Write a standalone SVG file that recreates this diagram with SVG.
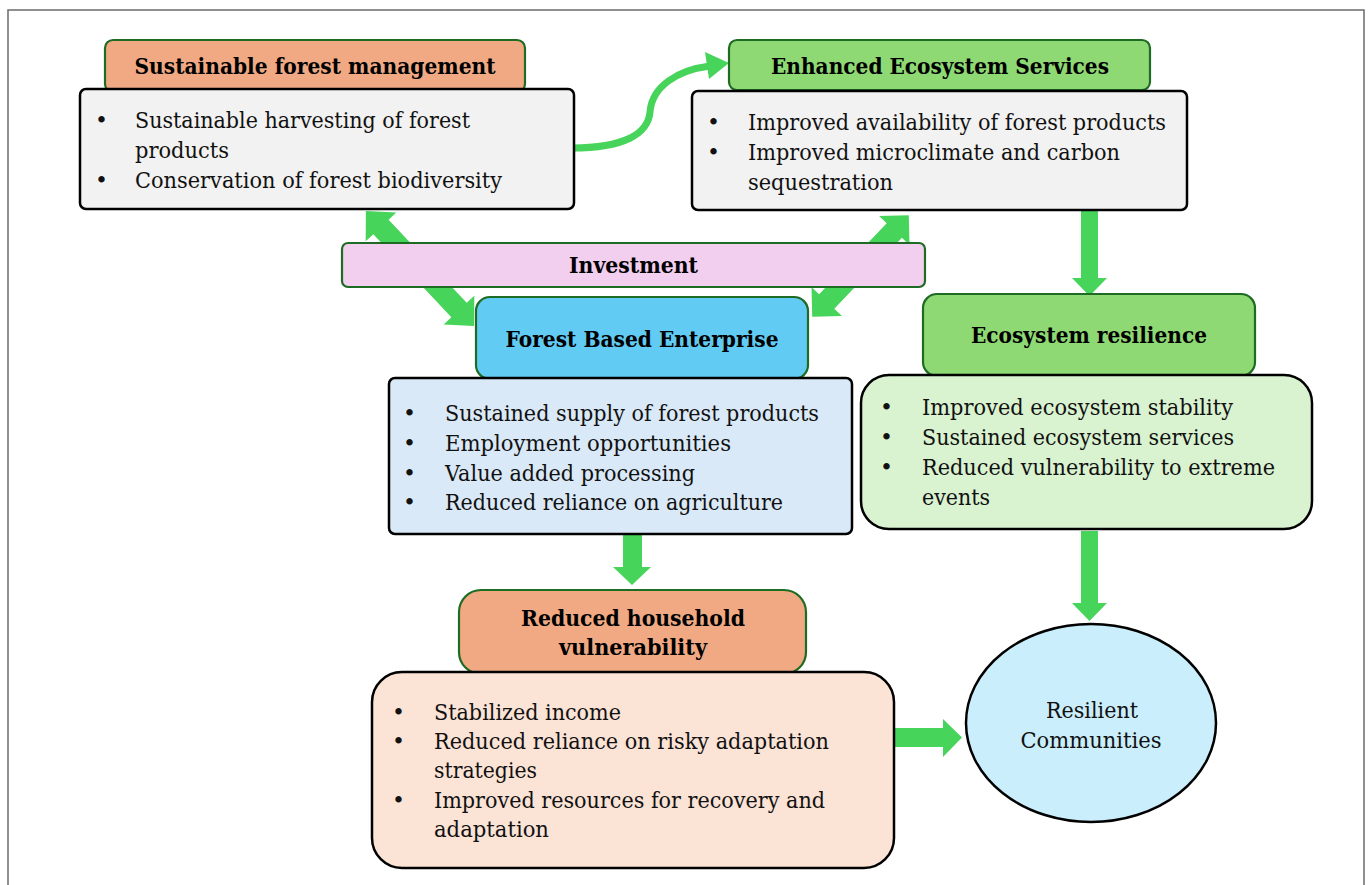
<svg xmlns="http://www.w3.org/2000/svg" width="1370" height="885" viewBox="0 0 1370 885">
  <style>
    .hdr { stroke: #1e6b24; stroke-width: 2.2; }
    .box { stroke: #000; stroke-width: 2.5; }
    .t { font-family: "DejaVu Serif", "Liberation Serif", serif; font-size: 22px; fill: #111; }
    .h { font-family: "DejaVu Serif", "Liberation Serif", serif; font-size: 22px; font-weight: bold; fill: #000; text-anchor: middle; }
    .c { text-anchor: middle; }
    .arrow { fill: #47d45a; }
  </style>

  <!-- outer frame -->
  <rect x="8" y="10" width="1356" height="890" fill="#fff" stroke="#6b6b6b" stroke-width="1.5"/>

  <!-- connectors -->
  <g id="connectors">
    <!-- curved link from management to ecosystem services -->
    <path d="M572,148 C624,148 648,134 650,112 C652,86 678,70 710,66" fill="none" stroke="#47d45a" stroke-width="7"/>
    <polygon class="arrow" points="729,63 705,52 709,79"/>
    <!-- two-way links through investment -->
    <polygon class="arrow" transform="translate(420,268.5) rotate(46.8)" points="-79,0 -57,-21 -57,-10.5 57,-10.5 57,-21 79,0 57,21 57,10.5 -57,10.5 -57,21"/>
    <polygon class="arrow" transform="translate(860.5,266) rotate(133.6)" points="-70,0 -49,-21 -49,-10.5 49,-10.5 49,-21 70,0 49,21 49,10.5 -49,10.5 -49,21"/>
    <!-- ecosystem services to ecosystem resilience -->
    <polygon class="arrow" points="1081,210 1098,210 1098,278 1107,278 1089.5,296 1072,278 1081,278"/>
    <!-- enterprise to household vulnerability -->
    <polygon class="arrow" points="623,534 642,534 642,567 651,567 632,585 613,567 623,567"/>
    <!-- ecosystem resilience to communities -->
    <polygon class="arrow" points="1081,531 1098,531 1098,603 1107,603 1089.5,621 1072,603 1081,603"/>
    <!-- household vulnerability to communities -->
    <polygon class="arrow" points="894,728 943,728 943,719 962,737.5 943,757 943,747 894,747"/>
  </g>

  <!-- Sustainable forest management -->
  <g id="sustainable-forest-management">
    <rect class="hdr" x="105" y="40" width="420" height="52" rx="8" fill="#f1a983"/>
    <text class="h" x="315" y="74" textLength="361" lengthAdjust="spacingAndGlyphs">Sustainable forest management</text>
    <rect class="box" x="80" y="89" width="494" height="120" rx="6" fill="#f2f2f2"/>
    <text class="t" x="95" y="128">•</text>
    <text class="t" x="135" y="128" textLength="335" lengthAdjust="spacingAndGlyphs">Sustainable harvesting of forest</text>
    <text class="t" x="135" y="158" textLength="94" lengthAdjust="spacingAndGlyphs">products</text>
    <text class="t" x="95" y="188">•</text>
    <text class="t" x="135" y="188" textLength="367" lengthAdjust="spacingAndGlyphs">Conservation of forest biodiversity</text>
  </g>

  <!-- Enhanced Ecosystem Services -->
  <g id="enhanced-ecosystem-services">
    <rect class="hdr" x="729" y="40" width="421" height="50" rx="8" fill="#8ed973"/>
    <text class="h" x="940" y="74" textLength="338" lengthAdjust="spacingAndGlyphs">Enhanced Ecosystem Services</text>
    <rect class="box" x="692" y="91" width="495" height="119" rx="6" fill="#f2f2f2"/>
    <text class="t" x="707" y="130">•</text>
    <text class="t" x="748" y="130" textLength="418" lengthAdjust="spacingAndGlyphs">Improved availability of forest products</text>
    <text class="t" x="707" y="160">•</text>
    <text class="t" x="748" y="160" textLength="372" lengthAdjust="spacingAndGlyphs">Improved microclimate and carbon</text>
    <text class="t" x="748" y="190" textLength="145" lengthAdjust="spacingAndGlyphs">sequestration</text>
  </g>

  <!-- Investment -->
  <g id="investment">
    <rect class="hdr" x="342" y="243" width="583" height="44" rx="6" fill="#f2ceef"/>
    <text class="h" x="633.5" y="273" textLength="129" lengthAdjust="spacingAndGlyphs">Investment</text>
  </g>

  <!-- Forest Based Enterprise -->
  <g id="forest-based-enterprise">
    <rect class="hdr" x="476" y="297" width="332" height="82" rx="14" fill="#61cbf3"/>
    <text class="h" x="642" y="347" textLength="273" lengthAdjust="spacingAndGlyphs">Forest Based Enterprise</text>
    <rect class="box" x="389" y="378" width="463" height="156" rx="6" fill="#dae9f7"/>
    <text class="t" x="403" y="421">•</text>
    <text class="t" x="445" y="421" textLength="374" lengthAdjust="spacingAndGlyphs">Sustained supply of forest products</text>
    <text class="t" x="403" y="451">•</text>
    <text class="t" x="445" y="451" textLength="286" lengthAdjust="spacingAndGlyphs">Employment opportunities</text>
    <text class="t" x="403" y="481">•</text>
    <text class="t" x="445" y="481" textLength="250" lengthAdjust="spacingAndGlyphs">Value added processing</text>
    <text class="t" x="403" y="510">•</text>
    <text class="t" x="445" y="510" textLength="338" lengthAdjust="spacingAndGlyphs">Reduced reliance on agriculture</text>
  </g>

  <!-- Ecosystem resilience -->
  <g id="ecosystem-resilience">
    <rect class="hdr" x="923" y="294" width="332" height="82" rx="14" fill="#8ed973"/>
    <text class="h" x="1089" y="343" textLength="236" lengthAdjust="spacingAndGlyphs">Ecosystem resilience</text>
    <rect class="box" x="861" y="375" width="451" height="154" rx="28" fill="#d9f2d0"/>
    <text class="t" x="880" y="415">•</text>
    <text class="t" x="922" y="415" textLength="311" lengthAdjust="spacingAndGlyphs">Improved ecosystem stability</text>
    <text class="t" x="880" y="445">•</text>
    <text class="t" x="922" y="445" textLength="312" lengthAdjust="spacingAndGlyphs">Sustained ecosystem services</text>
    <text class="t" x="880" y="475">•</text>
    <text class="t" x="922" y="475" textLength="353" lengthAdjust="spacingAndGlyphs">Reduced vulnerability to extreme</text>
    <text class="t" x="922" y="505" textLength="68" lengthAdjust="spacingAndGlyphs">events</text>
  </g>

  <!-- Reduced household vulnerability -->
  <g id="reduced-household-vulnerability">
    <rect class="hdr" x="459" y="590" width="347" height="84" rx="22" fill="#f1a983"/>
    <text class="h" x="633" y="626" textLength="224" lengthAdjust="spacingAndGlyphs">Reduced household</text>
    <text class="h" x="633" y="655" textLength="148" lengthAdjust="spacingAndGlyphs">vulnerability</text>
    <rect class="box" x="372" y="672" width="522" height="196" rx="30" fill="#fbe3d6"/>
    <text class="t" x="392" y="720">•</text>
    <text class="t" x="434" y="720" textLength="187" lengthAdjust="spacingAndGlyphs">Stabilized income</text>
    <text class="t" x="392" y="749">•</text>
    <text class="t" x="434" y="749" textLength="395" lengthAdjust="spacingAndGlyphs">Reduced reliance on risky adaptation</text>
    <text class="t" x="434" y="778" textLength="103" lengthAdjust="spacingAndGlyphs">strategies</text>
    <text class="t" x="392" y="808">•</text>
    <text class="t" x="434" y="808" textLength="391" lengthAdjust="spacingAndGlyphs">Improved resources for recovery and</text>
    <text class="t" x="434" y="837" textLength="115" lengthAdjust="spacingAndGlyphs">adaptation</text>
  </g>

  <!-- Resilient Communities -->
  <g id="resilient-communities">
    <ellipse cx="1091" cy="723" rx="125" ry="99" fill="#caeefb" stroke="#000" stroke-width="2.5"/>
    <text class="t c" x="1092" y="718" textLength="92" lengthAdjust="spacingAndGlyphs">Resilient</text>
    <text class="t c" x="1091" y="748" textLength="141" lengthAdjust="spacingAndGlyphs">Communities</text>
  </g>
</svg>
